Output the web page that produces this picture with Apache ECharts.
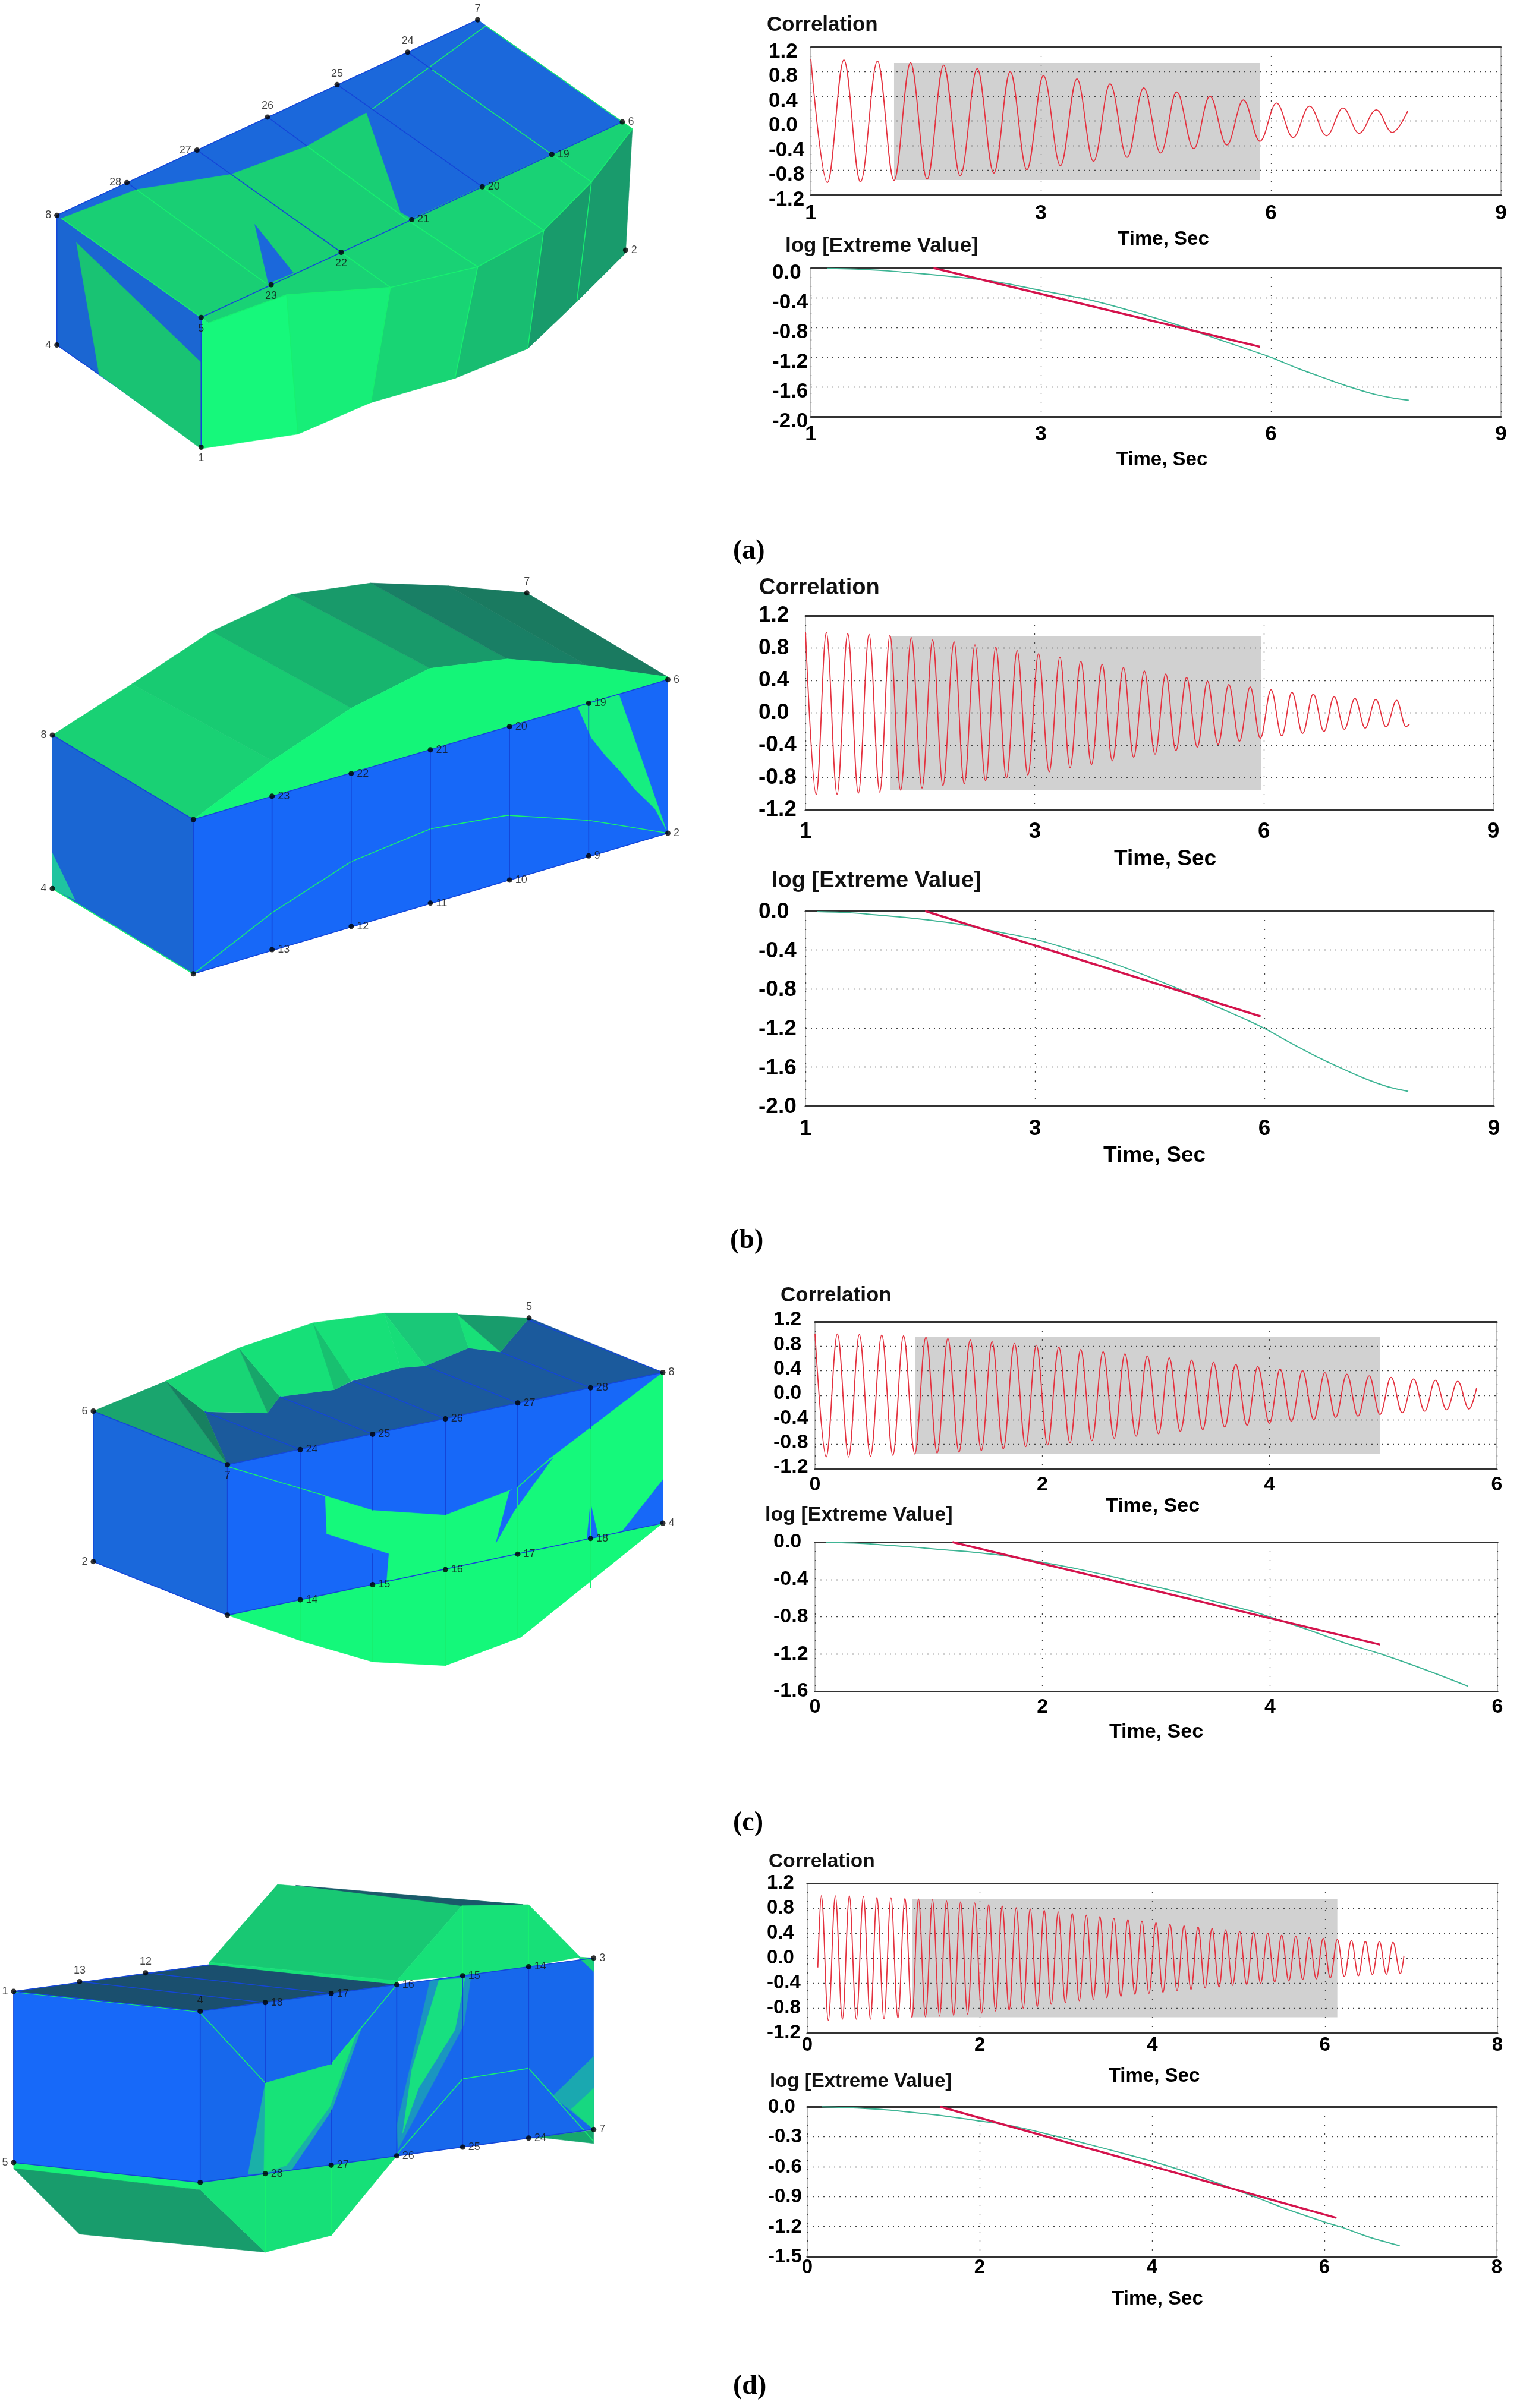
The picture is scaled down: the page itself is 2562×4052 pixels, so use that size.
<!DOCTYPE html>
<html><head><meta charset="utf-8"><style>html,body{margin:0;padding:0;background:#fff}#c{width:2562px;height:4052px}</style>
<script src="https://cdn.jsdelivr.net/npm/echarts@6/dist/echarts.min.js"></script></head><body><div id="c"></div>
<script>
// ---------- tick labels ----------
const xTicksAB=['1','3','6','9'], xTicksC=['0','2','4','6'], xTicksD=['0','2','4','6','8'];
const corrTicks=['-1.2','-0.8','-0.4','0.0','0.4','0.8','1.2'];
const logTicksAB=['-2.0','-1.6','-1.2','-0.8','-0.4','0.0'];
const logTicksC=['-1.6','-1.2','-0.8','-0.4','0.0'];
const logTicksD=['-1.5','-1.2','-0.9','-0.6','-0.3','0.0'];
// ---------- correlation curves: successive extremes ----------
const corrTimeA=[0,.216,.431,.647,.869,1.085,1.3,1.516,1.732,1.948,2.17,2.386,2.6,2.817,3.033,3.255,3.47,3.686,3.902,4.124,4.34,4.562,4.771,4.993,5.203,5.425,5.641,5.856,6.072,6.288,6.503,6.725,6.941,7.15,7.373,7.582,7.784];
const corrValA=[1,-1,.99,-.99,.97,-.965,.945,-.945,.905,-.89,.85,-.845,.8,-.79,.735,-.725,.68,-.655,.6,-.59,.535,-.52,.47,-.45,.4,-.39,.34,-.33,.29,-.27,.24,-.24,.21,-.2,.18,-.186,.16];
const corrTimeB=[0,.14,.273,.413,.553,.692,.832,.972,1.105,1.245,1.385,1.525,1.664,1.798,1.944,2.077,2.217,2.357,2.49,2.63,2.77,2.91,3.049,3.189,3.329,3.462,3.602,3.742,3.882,4.015,4.161,4.294,4.434,4.574,4.714,4.847,4.987,5.127,5.26,5.399,5.539,5.679,5.819,5.952,6.092,6.232,6.365,6.505,6.645,6.784,6.917,7.051,7.19,7.324,7.463,7.597,7.736,7.856,7.903];
const corrValB=[1,-1.01,.993,-1.005,.98,-.993,.97,-.98,.956,-.956,.93,-.93,.9,-.9,.878,-.878,.84,-.839,.81,-.804,.768,-.768,.729,-.729,.687,-.677,.638,-.638,.6,-.594,.56,-.548,.516,-.509,.479,-.467,.438,-.423,.389,-.389,.35,-.352,.32,-.315,.286,-.284,.254,-.254,.232,-.23,.2,-.203,.176,-.188,.166,-.174,.154,-.169,-.14];
const corrTimeC=[0,.099,.197,.296,.39,.488,.587,.685,.779,.878,.976,1.075,1.169,1.267,1.366,1.464,1.558,1.657,1.755,1.854,1.948,2.047,2.145,2.244,2.338,2.436,2.535,2.633,2.727,2.826,2.924,3.023,3.117,3.215,3.314,3.412,3.506,3.605,3.703,3.802,3.896,3.999,4.093,4.192,4.29,4.389,4.487,4.581,4.68,4.778,4.877,4.971,5.069,5.168,5.267,5.365,5.459,5.558,5.656,5.755,5.822];
const corrValC=[1.006,-1.003,1,-1.003,.99,-.99,.984,-.977,.97,-.955,.948,-.939,.926,-.926,.9,-.9,.874,-.871,.845,-.835,.816,-.806,.784,-.771,.745,-.739,.71,-.697,.677,-.665,.642,-.626,.61,-.587,.574,-.558,.535,-.516,.503,-.487,.468,-.455,.429,-.423,.403,-.397,.368,-.358,.345,-.339,.319,-.313,.294,-.284,.268,-.258,.245,-.235,.229,-.223,.12];
const corrTimeD=[.122,.163,.244,.325,.407,.488,.569,.65,.732,.807,.889,.97,1.051,1.132,1.214,1.289,1.37,1.452,1.533,1.614,1.696,1.777,1.858,1.94,2.021,2.102,2.183,2.259,2.34,2.422,2.503,2.584,2.666,2.747,2.828,2.909,2.991,3.072,3.153,3.235,3.316,3.391,3.473,3.554,3.635,3.717,3.798,3.879,3.961,4.042,4.123,4.204,4.286,4.367,4.448,4.53,4.611,4.692,4.774,4.849,4.93,5.012,5.093,5.174,5.255,5.337,5.418,5.499,5.581,5.662,5.743,5.819,5.9,5.981,6.063,6.144,6.225,6.307,6.388,6.469,6.55,6.632,6.713,6.789,6.876,6.916];
const corrValD=[-.15,1,-.998,.998,-.979,.998,-.979,.989,-.979,.973,-.97,.967,-.96,.957,-.954,.948,-.941,.935,-.929,.916,-.916,.9,-.897,.884,-.881,.856,-.849,.837,-.834,.808,-.802,.789,-.777,.767,-.739,.742,-.713,.716,-.681,.688,-.659,.666,-.634,.64,-.612,.618,-.58,.593,-.564,.567,-.548,.542,-.517,.517,-.501,.498,-.479,.475,-.463,.453,-.437,.428,-.422,.412,-.403,.396,-.384,.368,-.365,.349,-.342,.33,-.333,.317,-.317,.301,-.295,.282,-.282,.269,-.263,.266,-.257,.254,-.247,.04];
// ---------- shaded analysis windows: [start, end, top, bottom] ----------
const windowA=[1.085,5.856,.94,-.96], windowB=[1.112,5.959,.944,-.956], windowC=[.882,4.971,.948,-.952], windowD=[1.22,6.144,.948,-.948];
// ---------- log extreme-value curves ----------
const logTimeA=[.216,.575,1,1.392,1.784,2.176,2.569,2.961,3.288,3.614,4.007,4.399,4.791,5.183,5.575,6,6.359,6.686,7.013,7.34,7.601,7.797];
const logValA=[-.006,-.014,-.039,-.072,-.11,-.151,-.212,-.294,-.358,-.424,-.528,-.644,-.77,-.913,-1.051,-1.202,-1.354,-1.477,-1.596,-1.697,-1.752,-1.78];
const fitTimeA=[1.6,5.856], fitValA=[0,-1.06];
const logTimeB=[.148,.561,.945,1.299,1.653,2.007,2.361,2.993,3.424,3.896,4.368,4.9,5.313,5.785,6.021,6.375,6.73,7.025,7.32,7.615,7.881];
const logValB=[-.006,-.016,-.041,-.065,-.096,-.134,-.191,-.289,-.386,-.502,-.638,-.807,-.959,-1.122,-1.213,-1.366,-1.512,-1.62,-1.721,-1.803,-1.85];
const fitTimeB=[1.564,5.95], fitValB=[0,-1.081];
const logTimeC=[.098,.394,.65,.886,1.122,1.358,1.673,2.004,2.303,2.618,2.933,3.248,3.563,3.878,4.004,4.311,4.665,4.98,5.374,5.74];
const logValC=[-.002,-.013,-.034,-.055,-.081,-.104,-.147,-.217,-.286,-.371,-.46,-.552,-.652,-.754,-.805,-.929,-1.084,-1.202,-1.372,-1.545];
const fitTimeC=[1.209,4.969], fitValC=[0,-1.099];
const logTimeD=[.169,.485,.828,1.145,1.461,1.777,2.01,2.2,2.516,2.832,3.149,3.465,3.782,4.014,4.309,4.626,4.942,5.258,5.575,6.013,6.208,6.524,6.873];
const logValD=[-.002,-.01,-.026,-.05,-.079,-.115,-.145,-.165,-.218,-.284,-.351,-.422,-.495,-.549,-.628,-.723,-.822,-.925,-1.03,-1.159,-1.209,-1.308,-1.393];
const fitTimeD=[1.54,6.139], fitValD=[0,-1.114];
// ---------- mesh panels: faces (in mesh view units), colours, edges, nodes ----------
const facesA=[
[[125,710],[1050,65],[1368,402],[442,1047]],
[[135,720],[300,625],[508,575],[675,482],[805,372],[880,700],[905,722],[442,1047]],
[[905,722],[1368,402],[1390,425],[1300,600],[1195,760],[1050,880],[858,948],[630,972],[458,1065],[442,1047]],
[[560,740],[590,935],[645,900]],
[[125,710],[125,1138],[442,1475],[442,1047]],
[[168,800],[218,1235],[442,1480],[442,1195]],
[[442,1047],[458,1065],[630,972],[655,1432],[442,1480]],
[[630,972],[858,948],[815,1328],[655,1432]],
[[858,948],[1050,880],[1000,1248],[815,1328]],
[[1050,880],[1195,760],[1160,1150],[1000,1248]],
[[1195,760],[1300,600],[1268,995],[1160,1150]],
[[1300,600],[1390,425],[1375,835],[1268,995]]];
const colorsA=['#1b68db','#19cf74','#19d275','#1b68db','#1b66d2','#19c373','#16f87b','#17ee78','#18d574','#18bd71','#189b6b','#199b6c'];
const blueEdgesA=[[[125,710],[1050,65]],[[442,1047],[1368,402]],[[125,710],[125,1138]],[[442,1047],[442,1475]],[[279,602],[300,625]],[[433,495],[508,575],[750,832]],[[588,386],[675,482]],[[741,279],[818,360],[1060,616]],[[896,172],[950,230]],[[125,1138],[218,1235]]];
const greenEdgesA=[[[1068,85],[818,360]],[[300,625],[585,935]],[[675,482],[905,735],[1050,880]],[[750,832],[858,948]],[[1060,616],[1195,760]],[[950,230],[1213,509],[1300,600]],[[1068,85],[1390,425]],[[630,972],[655,1432]],[[858,948],[815,1328]],[[1050,880],[1000,1248]],[[1195,760],[1160,1150]],[[1300,600],[1268,995]],[[458,1065],[630,972],[858,948],[1050,880],[1195,760],[1300,600],[1390,425]],[[135,720],[442,1047]]];
const nodesA={top:[[1050,65,'7'],[896,172,'24'],[741,279,'25'],[588,386,'26']],left:[[433,495,'27'],[279,602,'28'],[125,710,'8'],[125,1138,'4']],right:[[1368,402,'6'],[1213,509,'19'],[1060,616,'20'],[905,724,'21'],[1375,825,'2']],bottom:[[750,832,'22'],[596,939,'23'],[442,1047,'5'],[442,1475,'1']]};

const facesB=[
[[115,600],[290,420],[598,690],[425,897]],
[[290,420],[465,235],[772,505],[598,690]],
[[465,235],[640,105],[945,365],[772,505]],
[[640,105],[815,65],[1115,332],[945,365]],
[[815,65],[985,75],[1290,355],[1115,332]],
[[985,75],[1158,100],[1468,395],[1290,355]],
[[425,897],[598,690],[772,505],[945,365],[1115,332],[1290,355],[1468,395],[1468,405],[1294,488],[1120,570],[946,652],[772,735],[598,815]],
[[115,600],[115,1140],[425,1440],[425,897]],
[[425,897],[1468,405],[1468,945],[425,1440]],
[[1270,500],[1360,455],[1465,935],[1440,860],[1395,790],[1365,730],[1330,670],[1300,610]],
[[115,1015],[115,1140],[165,1180]]];
const colorsB=['#19d174','#18cb72','#17b56e','#189a6a','#197f65','#1a7a60','#14f578','#1a66d3','#1768f8','#16ee80','#1fc4a0'];
const blueEdgesB=[[[598,815],[598,1355]],[[772,735],[772,1273]],[[946,652],[946,1191]],[[1120,570],[1120,1110]],[[1294,488],[1294,1025]],[[425,897],[425,1440]],[[425,1440],[1468,945]],[[115,600],[425,897]],[[425,897],[1468,405]]];
const greenEdgesB=[[[425,1440],[598,1225],[772,1045],[946,930],[1115,882],[1295,900],[1468,945]],[[115,1140],[425,1440]]];
const nodesB={top:[[1158,100,'7']],left:[[115,600,'8'],[115,1140,'4']],right:[[1468,405,'6'],[1468,945,'2'],[1294,488,'19'],[1120,570,'20'],[946,652,'21'],[772,735,'22'],[598,815,'23'],[1120,1110,'10'],[946,1191,'11'],[1294,1025,'9'],[772,1273,'12'],[598,1355,'13']],bottom:[[425,897,''],[425,1440,'']]};

const facesC=[
[[450,505],[530,510],[588,510],[615,448],[735,422],[775,390],[880,340],[935,332],[1030,265],[1100,280],[1163,152],[1457,357],[500,705]],
[[205,503],[365,390],[500,705]],
[[365,390],[450,505],[500,705]],
[[365,390],[525,265],[588,510],[450,505]],
[[525,265],[615,448],[588,510]],
[[525,265],[688,170],[772,390],[735,422],[615,448]],
[[688,170],[772,390],[735,422]],
[[688,170],[845,133],[880,340],[772,390]],
[[845,133],[1005,133],[1030,265],[935,332]],
[[845,133],[935,332],[880,340]],
[[1005,138],[1100,280],[1030,265]],
[[1005,138],[1163,152],[1100,280]],
[[205,503],[205,1070],[500,1272],[500,705]],
[[500,705],[1457,357],[1457,925],[500,1272]],
[[715,822],[819,877],[979,895],[1138,790],[1210,680],[1457,357],[1457,760],[1365,960],[1298,983],[1138,1042],[979,1100],[850,1145],[855,1040],[718,965]],
[[1120,805],[1090,1000],[1130,880],[1215,680]],
[[1298,850],[1290,985],[1315,975]],
[[500,1272],[660,1214],[819,1157],[979,1100],[1138,1042],[1298,983],[1457,925],[1145,1355],[979,1462],[819,1448],[660,1368]]];
const colorsC=['#1b5a9c','#1aa56e','#178060','#18d575','#17a56a','#16e078','#18c070','#17e078','#1ac878','#17dd78','#18e078','#189c6c','#1a68db','#1768f8','#15f97b','#1768f8','#1768f8','#14f87a'];
const blueEdgesC=[[[450,505],[660,648]],[[615,448],[819,590]],[[775,390],[979,532]],[[935,332],[1138,472]],[[1100,280],[1298,415]],[[500,705],[1457,357]],[[500,1272],[1457,925]],[[500,705],[500,1272]],[[660,648],[660,1214]],[[819,590],[819,877]],[[819,1040],[819,1157]],[[979,532],[979,895]],[[1138,472],[1138,790]],[[1298,415],[1298,570]],[[1163,160],[1457,357]],[[205,503],[500,705]],[[205,1070],[500,1272]],[[205,503],[205,1070]]];
const greenEdgesC=[[[500,712],[715,822]],[[1138,790],[1210,680]],[[660,1214],[660,1368]],[[819,1157],[819,1448]],[[979,895],[979,1462]],[[1138,790],[1138,1355]],[[1298,570],[1298,1170]]];
const nodesC={top:[[1163,152,'5']],left:[[205,503,'6'],[205,1070,'2']],right:[[1457,357,'8'],[1457,925,'4'],[1298,415,'28'],[1138,472,'27'],[979,532,'26'],[819,590,'25'],[660,648,'24'],[660,1214,'14'],[819,1157,'15'],[979,1100,'16'],[1138,1042,'17'],[1298,983,'18']],bottom:[[500,705,'7'],[500,1272,'']]};

const facesD=[
[[610,92],[460,385],[872,455],[1015,172],[1150,168]],
[[650,95],[1150,168],[1015,172]],
[[1015,172],[1162,168],[1162,402],[1017,436],[872,455]],
[[1162,168],[1275,365],[1162,402]],
[[460,385],[875,455],[872,470],[460,398]],
[[30,495],[460,395],[872,470],[440,570]],
[[30,495],[30,1140],[440,1215],[440,570]],
[[440,570],[1305,369],[1305,1015],[440,1215]],
[[583,840],[728,770],[795,630],[730,940],[640,1170],[545,1185]],
[[583,840],[728,770],[782,660],[725,930],[630,1150],[580,1180]],
[[945,455],[1035,440],[1020,620],[875,1090],[872,1000]],
[[965,452],[1022,445],[1000,640],[920,860],[885,1030],[905,790]],
[[1305,740],[1215,890],[1305,1015]],
[[1305,860],[1255,940],[1305,1015]],
[[1270,365],[1305,369],[1305,420]],
[[30,1140],[440,1215],[440,1243],[30,1165]],
[[30,1162],[175,1410],[583,1478],[440,1243]],
[[440,1215],[872,1115],[728,1415],[583,1478],[440,1243]],
[[1162,1048],[1305,1018],[1305,1068],[1200,1048]]];
const colorsD=['#18c873','#1a5a6a','#17e178','#17e078','#17e078','#1a4f6e','#1769f9','#1768ec','#1ab0a8','#17e378','#1a96c0','#17e080','#1aa8b0','#17d880','#17d078','#16f078','#189c6c','#16e078','#17a86e'];
const blueEdgesD=[[[30,495],[440,570]],[[175,458],[583,537]],[[320,425],[728,503]],[[30,495],[460,395]],[[440,570],[1305,369]],[[30,1140],[440,1215]],[[440,1215],[1305,1015]],[[440,570],[440,1215]],[[583,537],[583,840]],[[728,503],[728,770]],[[728,940],[728,1150]],[[872,470],[872,1115]],[[1017,436],[1017,1082]],[[1162,402],[1162,1048]],[[30,495],[30,1140]]];
const greenEdgesD=[[[440,575],[583,840]],[[728,770],[872,470]],[[872,1110],[1017,825],[1162,785],[1305,1060]],[[583,1182],[583,1478]],[[728,1150],[728,1415]],[[1017,172],[1017,436]],[[1162,168],[1162,402]],[[30,497],[440,572]]];
const nodesD={top:[[175,458,'13'],[320,425,'12'],[440,570,'4']],left:[[30,495,'1'],[30,1140,'5']],right:[[1305,369,'3'],[1305,1015,'7'],[1162,402,'14'],[1017,436,'15'],[872,470,'16'],[728,503,'17'],[583,537,'18'],[1162,1048,'24'],[1017,1082,'25'],[872,1115,'26'],[728,1150,'27'],[583,1182,'28']],bottom:[[440,1215,'']]};

// ---------- layout ----------
const SANS='"Liberation Sans",Arial,sans-serif';
const grid=[],xAxis=[],yAxis=[],series=[],title=[];
const RED='#e4323f',GREEN='#3fb595',FIT='#d4134c';
function pair(a,b){return a.map((x,i)=>[x,b[i]]);}
function plot(r,cfg){
 const g=grid.length;
 grid.push({left:r[0],top:r[2],width:r[1]-r[0],height:r[3]-r[2],show:true,borderColor:'#777',borderWidth:1,backgroundColor:'#fff',z:0});
 const xi=xAxis.length;
 const dot={show:true,lineStyle:{color:'#444',width:1.3,type:[2,7]}};
 xAxis.push({gridIndex:g,type:'value',position:'bottom',min:cfg.xmin,max:cfg.xmax,interval:cfg.xint,z:3,
  axisLine:{show:true,onZero:false,lineStyle:{color:'#333',width:3}},axisTick:{show:false},splitLine:{show:true,lineStyle:{color:'#444',width:1.3,type:[2,13]}},
  axisLabel:{show:true,margin:cfg.xm,fontFamily:SANS,fontWeight:'bold',fontSize:cfg.fs,color:'#000',showMinLabel:true,showMaxLabel:true,
   formatter:v=>cfg.xt[Math.round((v-cfg.xmin)/cfg.xint)]},
  name:'Time, Sec',nameLocation:'middle',nameGap:cfg.ng,nameTextStyle:{fontFamily:SANS,fontWeight:'bold',fontSize:cfg.nfs,color:'#000',padding:cfg.np>=0?[0,0,0,cfg.np]:[0,-cfg.np,0,0]}});
 xAxis.push({gridIndex:g,type:'value',position:'top',min:cfg.xmin,max:cfg.xmax,interval:cfg.xint,z:3,axisLine:{show:true,onZero:false,lineStyle:{color:'#333',width:3}},axisTick:{show:false},axisLabel:{show:false},splitLine:{show:false}});
 const yi=yAxis.length;
 const shift=cfg.yo?{verticalAlign:cfg.yo>0?'top':'bottom',lineHeight:2*Math.abs(cfg.yo)}:{verticalAlign:'middle'};
 yAxis.push({gridIndex:g,type:'value',min:cfg.ymin,max:cfg.ymax,interval:cfg.yint,z:3,
  axisLine:{show:false},axisTick:{show:false},splitLine:dot,
  axisLabel:{show:true,margin:cfg.ym,align:'left',...shift,fontFamily:SANS,fontWeight:'bold',fontSize:cfg.fs,color:'#000',showMinLabel:true,showMaxLabel:true,
   formatter:v=>cfg.yt[Math.round((v-cfg.ymin)/cfg.yint)]}});
 cfg.lines.forEach(l=>{
  const s={type:'line',xAxisIndex:xi,yAxisIndex:yi,data:pair(l.t,l.v),showSymbol:false,silent:true,animation:false,z:5,
   smooth:l.smooth,lineStyle:{color:l.c,width:l.w},clip:false};
  if(l.mono)s.smoothMonotone='x';
  if(l.win)s.markArea={silent:true,animation:false,z:1,itemStyle:{color:'#d1d1d1'},label:{show:false},data:[[{coord:[l.win[0],l.win[2]]},{coord:[l.win[1],l.win[3]]}]]};
  series.push(s);
 });
}
function mesh(left,top,w,h,faces,colors,blue,green,nodes){
 const g=grid.length;
 grid.push({left:left,top:top,width:w,height:h,show:false});
 const xi=xAxis.length,yi=yAxis.length;
 xAxis.push({gridIndex:g,type:'value',min:0,max:1568,show:false,splitLine:{show:false}});
 yAxis.push({gridIndex:g,type:'value',min:0,max:1568,inverse:true,show:false,splitLine:{show:false}});
 series.push({type:'custom',xAxisIndex:xi,yAxisIndex:yi,silent:true,animation:false,clip:false,z:2,
  data:faces.map((f,i)=>[i]),
  renderItem:(p,api)=>{const i=api.value(0);return{type:'polygon',shape:{points:faces[i].map(q=>api.coord(q))},style:{fill:colors[i],stroke:colors[i],lineWidth:.6}};}});
 const edge=(arr,col,wd)=>series.push({type:'custom',xAxisIndex:xi,yAxisIndex:yi,silent:true,animation:false,clip:false,z:3,
  data:arr.map((f,i)=>[i]),
  renderItem:(p,api)=>{const i=api.value(0);return{type:'polyline',shape:{points:arr[i].map(q=>api.coord(q))},style:{fill:null,stroke:col,lineWidth:wd}};}});
 edge(green,'#17f070',1.6);
 edge(blue,'#1446d8',1.6);
 Object.keys(nodes).forEach(side=>{
  series.push({type:'scatter',xAxisIndex:xi,yAxisIndex:yi,silent:true,animation:false,clip:false,z:4,symbolSize:9,
   itemStyle:{color:'#000'},data:nodes[side],
   label:{show:true,position:side,distance:5,fontFamily:SANS,fontSize:18,color:'#111',formatter:d=>d.value[2]}});
 });
}
function label(text,x,y,size){title.push({text:text,left:x,top:y,padding:0,textStyle:{fontFamily:SANS,fontWeight:'bold',fontSize:size,color:'#111'}});}
function panelTag(letter,x,y){title.push({text:'{p|(}{b|'+letter+'}{p|)}',left:x,top:y,padding:0,textStyle:{rich:{p:{fontFamily:'"Liberation Serif",serif',fontSize:46,color:'#000'},b:{fontFamily:'"Liberation Serif",serif',fontSize:46,fontWeight:'bold',color:'#000'}}}});}

mesh(0,0,1200,800,facesA,colorsA,blueEdgesA,greenEdgesA,nodesA);
mesh(0,950,1200,750,facesB,colorsB,blueEdgesB,greenEdgesB,nodesB);
mesh(0,2150,1200,700,facesC,colorsC,blueEdgesC,greenEdgesC,nodesC);
mesh(0,3130,1200,700,facesD,colorsD,blueEdgesD,greenEdgesD,nodesD);

const ab={xmin:0,xmax:9,xint:3,xt:xTicksAB}, c={xmin:0,xmax:6,xint:2,xt:xTicksC}, d={xmin:0,xmax:8,xint:2,xt:xTicksD};
const corr={ymin:-1.2,ymax:1.2,yint:.4,yt:corrTicks};
const corrLine=(t,v,win)=>[{t:t,v:v,c:RED,w:1.8,smooth:.37,mono:true,win:win}];
const logLines=(t,v,ft,fv)=>[{t:t,v:v,c:GREEN,w:2,smooth:.3},{t:ft,v:fv,c:FIT,w:3.5,smooth:false}];

plot([1364,2525,79,328],{...ab,...corr,fs:35,nfs:33,xm:14,ym:71,yo:8,ng:58,np:25,lines:corrLine(corrTimeA,corrValA,windowA)});
plot([1364,2525,451,701],{...ab,ymin:-2,ymax:0,yint:.4,yt:logTicksAB,fs:35,nfs:33,xm:13,ym:65,yo:8,ng:56,np:20,lines:logLines(logTimeA,logValA,fitTimeA,fitValA)});
plot([1355,2512,1036,1363],{...ab,...corr,fs:37,nfs:37,xm:18,ym:79,yo:0,ng:64,np:53,lines:corrLine(corrTimeB,corrValB,windowB)});
plot([1355,2513,1533,1861],{...ab,ymin:-2,ymax:0,yint:.4,yt:logTicksAB,fs:37,nfs:37,xm:20,ym:79,yo:2,ng:65,np:16,lines:logLines(logTimeB,logValB,fitTimeB,fitValB)});
plot([1371,2518,2224,2472],{...c,...corr,fs:34,nfs:34,xm:10,ym:70,yo:-3,ng:46,np:-11,lines:corrLine(corrTimeC,corrValC,windowC)});
plot([1371,2519,2595,2846],{...c,ymin:-1.6,ymax:0,yint:.4,yt:logTicksC,fs:34,nfs:34,xm:10,ym:70,yo:0,ng:52,np:0,lines:logLines(logTimeC,logValC,fitTimeC,fitValC)});
plot([1358,2519,3169,3421],{...d,...corr,fs:33,nfs:33,xm:4,ym:68,yo:0,ng:56,np:6,lines:corrLine(corrTimeD,corrValD,windowD)});
plot([1358,2518,3545,3797],{...d,ymin:-1.5,ymax:0,yint:.3,yt:logTicksD,fs:33,nfs:33,xm:2,ym:66,yo:1,ng:55,np:18,lines:logLines(logTimeD,logValD,fitTimeD,fitValD)});

label('Correlation',1290,25,35); label('log [Extreme Value]',1321,397,35);
label('Correlation',1277,971,38); label('log [Extreme Value]',1298,1464,38);
label('Correlation',1313,2163,35); label('log [Extreme Value]',1287,2533,34);
label('Correlation',1293,3116,33.5); label('log [Extreme Value]',1295,3486,33);
panelTag('a',1233,905); panelTag('b',1228,2065); panelTag('c',1233,3045); panelTag('d',1233,3993);

const chart=echarts.init(document.getElementById('c'),null,{renderer:'canvas'});
chart.setOption({animation:false,backgroundColor:'#fff',title:title,grid:grid,xAxis:xAxis,yAxis:yAxis,series:series});
</script></body></html>
